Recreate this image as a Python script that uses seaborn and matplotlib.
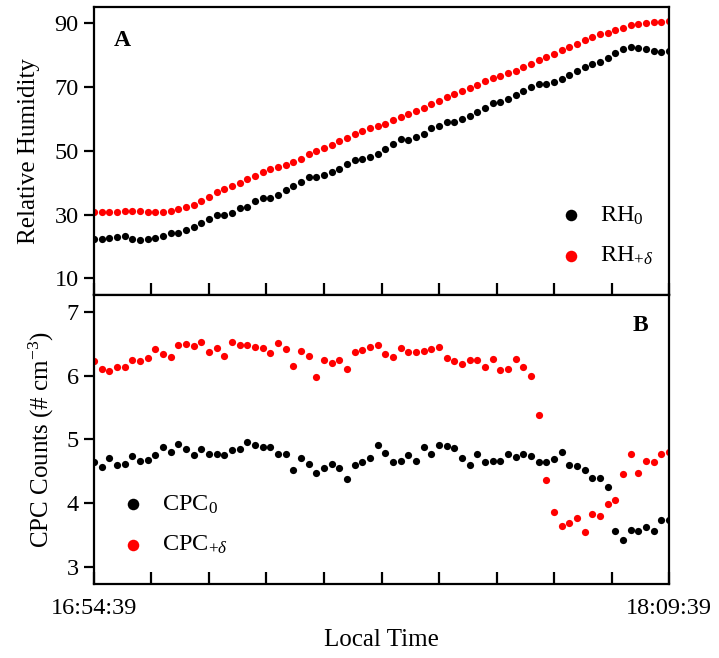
import numpy as np
import pandas as pd
import matplotlib
matplotlib.use("Agg")
import matplotlib.pyplot as plt
import seaborn as sns

# one sample per minute, 16:54:39 -> 18:09:39
minutes = list(range(76))
tick_minutes = [0, 7.5, 15, 22.5, 30, 37.5, 45, 52.5, 60, 67.5, 75]
tick_labels = ["16:54:39", "", "", "", "", "", "", "", "", "", "18:09:39"]

rh0 = [22.4, 22.4, 22.7, 22.9, 23.3, 22.4, 22.0, 22.3, 22.5, 23.3,
       24.3, 24.1, 25.0, 26.0, 27.3, 28.6, 29.9, 29.8, 30.4, 31.9,
       32.5, 34.1, 35.3, 35.2, 36.2, 37.7, 38.8, 40.3, 41.7, 41.6,
       42.3, 43.4, 44.3, 45.9, 47.1, 47.3, 48.0, 49.1, 50.4, 52.1,
       53.7, 53.4, 54.3, 55.2, 57.0, 57.7, 58.9, 59.0, 59.9, 60.9,
       62.0, 63.5, 64.9, 65.3, 66.1, 67.4, 68.8, 70.0, 70.9, 71.0,
       71.4, 72.5, 73.8, 75.1, 76.3, 77.1, 77.9, 79.0, 80.5, 81.8,
       82.4, 82.3, 81.8, 81.2, 81.0, 81.2]

rh_d = [30.7, 30.7, 30.8, 30.9, 31.0, 31.1, 31.0, 30.9, 30.8, 30.8,
        31.1, 31.8, 32.3, 33.1, 34.2, 35.4, 36.9, 38.1, 39.0, 40.0,
        41.1, 42.2, 43.2, 44.2, 45.0, 45.6, 46.5, 47.5, 48.8, 49.8,
        50.9, 51.9, 53.0, 54.0, 55.2, 56.1, 57.0, 57.8, 58.5, 59.5,
        60.5, 61.6, 62.5, 63.4, 64.6, 65.7, 66.8, 67.8, 68.7, 69.6,
        70.6, 71.7, 72.6, 73.5, 74.3, 75.0, 76.1, 77.2, 78.4, 79.3,
        80.4, 81.4, 82.4, 83.5, 84.6, 85.5, 86.4, 87.0, 87.7, 88.4,
        89.2, 89.6, 90.0, 90.2, 90.4, 90.5]

cpc0 = [4.64, 4.57, 4.71, 4.60, 4.61, 4.74, 4.66, 4.68, 4.75, 4.89,
        4.81, 4.93, 4.85, 4.75, 4.85, 4.78, 4.78, 4.76, 4.83, 4.85,
        4.96, 4.91, 4.89, 4.89, 4.78, 4.78, 4.53, 4.71, 4.61, 4.47,
        4.55, 4.62, 4.55, 4.38, 4.60, 4.65, 4.71, 4.92, 4.79, 4.65,
        4.67, 4.76, 4.66, 4.88, 4.77, 4.91, 4.90, 4.87, 4.71, 4.60,
        4.78, 4.65, 4.66, 4.66, 4.77, 4.72, 4.78, 4.74, 4.65, 4.64,
        4.69, 4.81, 4.60, 4.59, 4.52, 4.40, 4.40, 4.26, 3.57, 3.43,
        3.59, 3.57, 3.63, 3.57, 3.74, 3.74]

cpc_d = [6.22, 6.11, 6.07, 6.14, 6.14, 6.25, 6.22, 6.28, 6.42, 6.33,
         6.29, 6.47, 6.50, 6.46, 6.52, 6.37, 6.43, 6.31, 6.53, 6.48,
         6.47, 6.44, 6.43, 6.36, 6.51, 6.42, 6.15, 6.39, 6.31, 5.98,
         6.24, 6.20, 6.24, 6.10, 6.37, 6.40, 6.45, 6.47, 6.34, 6.29,
         6.43, 6.37, 6.37, 6.39, 6.42, 6.45, 6.27, 6.22, 6.18, 6.25,
         6.24, 6.14, 6.26, 6.09, 6.10, 6.26, 6.13, 6.00, 5.39, 4.37,
         3.86, 3.64, 3.70, 3.77, 3.55, 3.84, 3.81, 3.99, 4.06, 4.46,
         4.77, 4.47, 4.67, 4.64, 4.77, 4.80]

sns.set_style("ticks")
plt.rcParams["font.family"] = ["Liberation Serif", "DejaVu Serif"]
plt.rcParams["mathtext.fontset"] = "custom"
plt.rcParams["mathtext.rm"] = "Liberation Serif"
plt.rcParams["mathtext.it"] = "Liberation Serif:italic"
plt.rcParams["mathtext.bf"] = "Liberation Serif:bold"
for key in ("text.color", "axes.labelcolor", "xtick.color", "ytick.color",
            "axes.edgecolor"):
    plt.rcParams[key] = "black"

FS = 17.5
RED = "#ff0000"

fig = plt.figure(figsize=(7.19, 6.58), dpi=100)
ax1 = fig.add_axes([0.1307, 0.5517, 0.7998, 0.4377])
ax2 = fig.add_axes([0.1307, 0.1125, 0.7998, 0.4392])

df_rh = pd.DataFrame({"t": minutes, "rh0": rh0, "rhd": rh_d})
df_cpc = pd.DataFrame({"t": minutes, "c0": cpc0, "cd": cpc_d})

ms = 27
sns.scatterplot(data=df_rh, x="t", y="rh0", color="black", s=ms, linewidth=0,
                ax=ax1, label="RH$_0$", legend=False)
sns.scatterplot(data=df_rh, x="t", y="rhd", color=RED, s=ms, linewidth=0,
                ax=ax1, label="RH$_{+\\mathit{\\delta}}$", legend=False)
sns.scatterplot(data=df_cpc, x="t", y="c0", color="black", s=ms, linewidth=0,
                ax=ax2, label="CPC$_0$", legend=False)
sns.scatterplot(data=df_cpc, x="t", y="cd", color=RED, s=ms, linewidth=0,
                ax=ax2, label="CPC$_{+\\mathit{\\delta}}$", legend=False)

for ax in (ax1, ax2):
    ax.set_xlim(0, 75)
    ax.set_xticks(tick_minutes)
    for sp in ax.spines.values():
        sp.set_visible(True)
        sp.set_linewidth(1.6)
        sp.set_color("black")
    ax.tick_params(axis="x", direction="in", length=9, width=1.6, pad=10,
                   labelsize=FS, bottom=True, top=False, colors="black")
    ax.tick_params(axis="y", direction="out", length=7, width=1.6, pad=4,
                   labelsize=FS, left=True, right=False, colors="black")

ax1.set_ylim(4.8, 95)
ax1.set_yticks([10, 30, 50, 70, 90])
ax1.set_xticklabels([])
ax1.set_xlabel("")
ax1.set_ylabel("Relative Humidity", fontsize=18)
ax1.yaxis.set_label_coords(-0.094, 0.5)

ax2.set_ylim(2.74, 7.26)
ax2.set_yticks([3, 4, 5, 6, 7])
ax2.set_xticklabels(tick_labels)
ax2.set_xlabel("Local Time", fontsize=18)
ax2.xaxis.set_label_coords(0.5, -0.155)
ax2.set_ylabel("CPC Counts (# cm$^{-3}$)", fontsize=18)
ax2.yaxis.set_label_coords(-0.066, 0.5)

ax1.text(0.049, 0.885, "A", transform=ax1.transAxes, fontsize=17,
         fontweight="bold", ha="center", va="center")
ax2.text(0.95, 0.896, "B", transform=ax2.transAxes, fontsize=17,
         fontweight="bold", ha="center", va="center")

ax1.legend(loc="lower right", bbox_to_anchor=(1.011, 0.02), frameon=False,
           fontsize=FS, markerscale=1.6, handletextpad=0.6, labelspacing=0.75,
           handlelength=1.2)
ax2.legend(loc="lower left", bbox_to_anchor=(0.005, 0.02), frameon=False,
           fontsize=FS, markerscale=1.6, handletextpad=0.6, labelspacing=0.75,
           handlelength=1.2)

fig.savefig("out.png", dpi=100)
